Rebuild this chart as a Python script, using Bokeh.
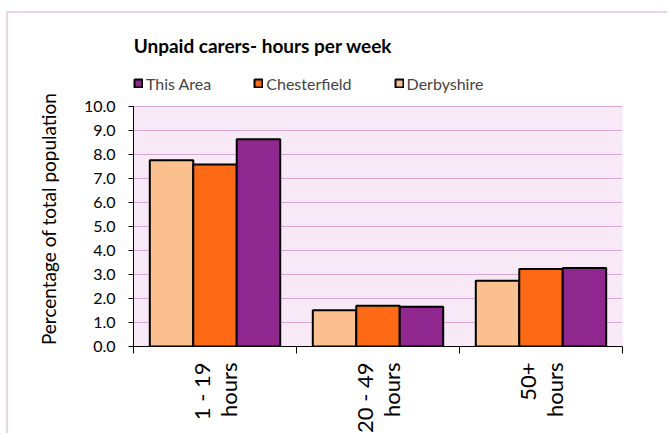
import math
from bokeh.plotting import figure
from bokeh.models import (ColumnDataSource, FixedTicker, NumeralTickFormatter,
                          Legend, LegendItem, Label, BoxAnnotation)
from bokeh.embed import file_html
from bokeh.resources import INLINE

categories = ["1 - 19\nhours", "20 - 49\nhours", "50+\nhours"]
series = ["Derbyshire", "Chesterfield", "This Area"]
derbyshire = [7.75, 1.51, 2.73]
chesterfield = [7.57, 1.70, 3.22]
this_area = [8.62, 1.65, 3.27]
colors = ["#FAC090", "#FC6A16", "#90278E"]
y_ticks = [0, 1, 2, 3, 4, 5, 6, 7, 8, 9, 10]
y_max = 10

FONT = "Lato"
centers = [i + 0.5 for i in range(len(categories))]
bounds = [float(i) for i in range(len(categories) + 1)]

p = figure(width=661, height=422, x_range=(0, 3), y_range=(0, 13.85),
           output_backend="svg", toolbar_location=None,
           min_border_left=125, min_border_right=47, min_border_top=0, min_border_bottom=88)
p.styles = {"margin-left": "6px", "margin-top": "11px",
            "border-left": "2px solid #EBD3EB", "border-top": "2px solid #EBD3EB"}

p.background_fill_color = "white"
p.border_fill_color = "white"
p.outline_line_color = None

# plot area background
p.add_layout(BoxAnnotation(left=0, right=3, bottom=0, top=y_max, fill_color="#F7EAF6",
                           fill_alpha=1, line_color="#E8C8E4", line_width=1, level="image"))

p.xgrid.grid_line_color = None
p.ygrid.grid_line_color = "#D8A8D4"
p.ygrid.ticker = FixedTicker(ticks=y_ticks[1:])

bw = 0.8 / 3
renderers = []
for k, (name, vals) in enumerate(zip(series, [derbyshire, chesterfield, this_area])):
    src = ColumnDataSource(dict(x=[c + (k - 1) * bw for c in centers], top=vals))
    r = p.vbar(x="x", top="top", width=bw, bottom=0, source=src,
               fill_color=colors[k], line_color="black", line_width=2)
    renderers.append(r)

# y axis (label padded with no-break spaces so it centres on the 0-10 plot area)
ya = p.yaxis[0]
ya.bounds = (0, y_max)
ya.ticker = FixedTicker(ticks=y_ticks)
ya.formatter = NumeralTickFormatter(format="0.0")
ya.minor_tick_line_color = None
ya.major_tick_in = 0
ya.major_tick_out = 5
ya.major_label_standoff = 13
ya.major_label_text_font = FONT
ya.major_label_text_font_size = "16px"
ya.major_label_text_color = "black"
ya.axis_line_color = "black"
ya.major_tick_line_color = "black"
ya.axis_label = "Percentage of total population" + "\u00a0" * 16
ya.axis_label_text_font = FONT
ya.axis_label_text_font_size = "19px"
ya.axis_label_text_font_style = "normal"
ya.axis_label_text_color = "black"
ya.axis_label_standoff = 21

# x axis: labels at category centres, tick marks at category boundaries
xa = p.xaxis[0]
xa.ticker = FixedTicker(ticks=centers, minor_ticks=bounds)
xa.major_label_overrides = {c: t for c, t in zip(centers, categories)}
xa.major_tick_line_color = None
xa.major_tick_in = 0
xa.major_tick_out = 0
xa.minor_tick_in = 0
xa.minor_tick_out = 7
xa.minor_tick_line_color = "black"
xa.major_label_orientation = math.pi / 2
xa.major_label_standoff = 9
xa.major_label_text_font = FONT
xa.major_label_text_font_size = "22px"
xa.major_label_text_line_height = 1.0
xa.major_label_text_color = "black"
xa.axis_line_color = "black"

p.add_layout(Label(x=0.794, y=12.52, text="Unpaid carers- hours per week",
                   text_align="center", text_baseline="middle", text_font=FONT,
                   text_font_size="19px", text_font_style="bold", text_color="black"))

items = [LegendItem(label=series[k], renderers=[renderers[k]]) for k in (2, 1, 0)]
leg = Legend(items=items, orientation="horizontal", location=(0, 253),
             glyph_width=10, glyph_height=10, label_standoff=3, spacing=42,
             padding=0, margin=0, border_line_color=None, background_fill_alpha=0,
             label_text_font=FONT, label_text_font_size="16px", label_height=20)
p.add_layout(leg, "center")

open("out.html", "w").write(file_html(p, INLINE))
